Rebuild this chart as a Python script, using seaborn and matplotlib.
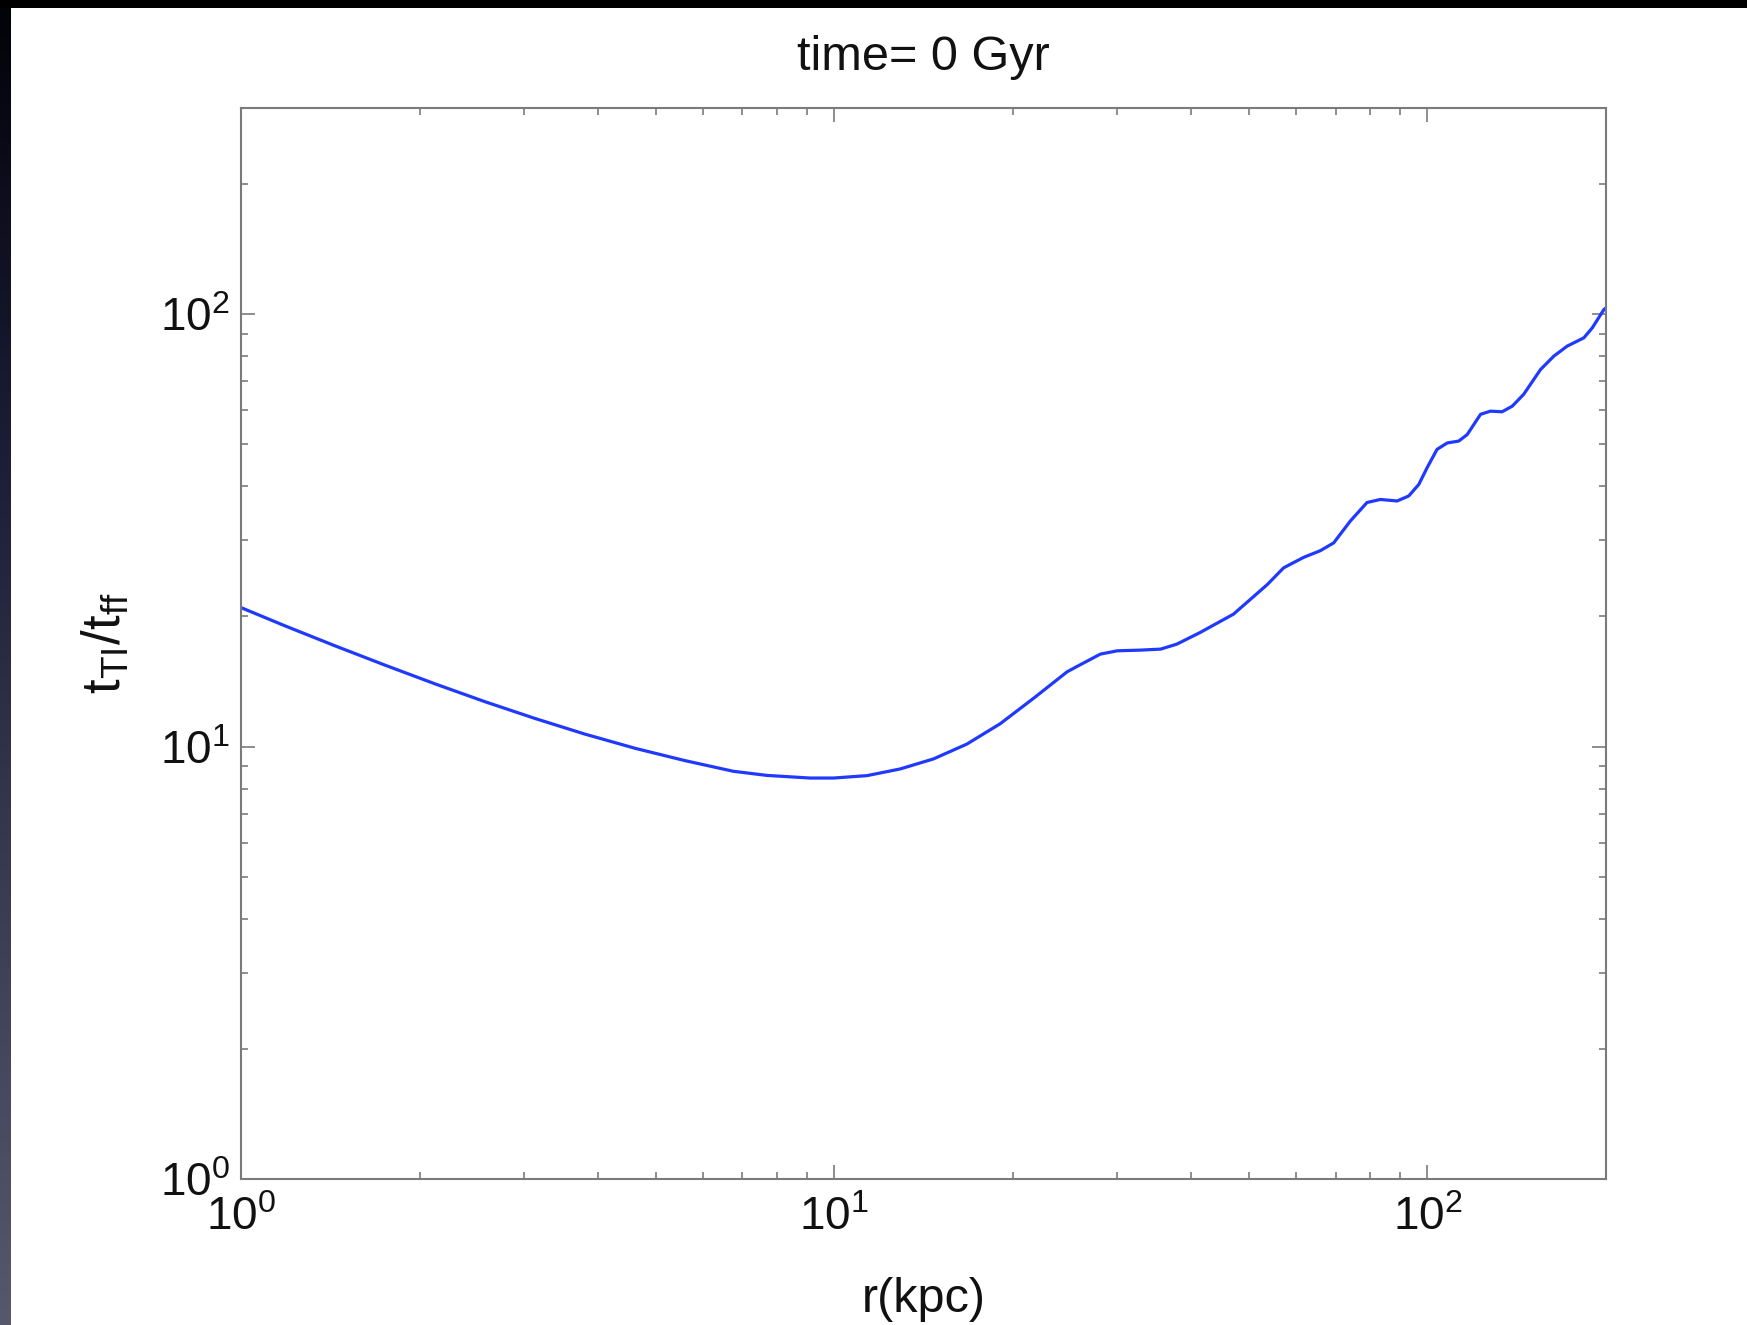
import numpy as np
import matplotlib
matplotlib.use("Agg")
import matplotlib.pyplot as plt
import seaborn as sns
import pandas as pd
from matplotlib.colors import LinearSegmentedColormap

# Radius (kpc) and ratio of thermal-instability time to free-fall time
r_kpc = [1.00, 1.186, 1.44, 1.75, 2.13, 2.58, 3.13, 3.80, 4.62, 5.59, 6.76,
         7.70, 9.11, 9.97, 11.36, 12.92, 14.71, 16.74, 19.05, 21.7, 24.7,
         25.6, 28.1, 30.0, 32.8, 35.5, 37.8, 41.4, 47.1, 53.7, 57.2, 58.7,
         61.85, 66.0, 69.5, 74.2, 79.1, 83.3, 88.9, 93.0, 96.7, 99.9, 103.8,
         108.0, 112.9, 116.7, 122.9, 127.7, 133.6, 139.0, 145.3, 155.1,
         163.3, 172.0, 183.5, 189.6, 198.3, 200.0]
t_ratio = [20.97, 19.03, 17.11, 15.43, 13.95, 12.70, 11.62, 10.69, 9.91, 9.29,
           8.77, 8.58, 8.46, 8.46, 8.57, 8.88, 9.37, 10.14, 11.3, 12.95, 14.9,
           15.3, 16.37, 16.66, 16.72, 16.81, 17.26, 18.37, 20.25, 23.7, 25.9,
           26.4, 27.4, 28.4, 29.6, 33.3, 36.7, 37.3, 37.0, 38.0, 40.4, 44.2,
           48.7, 50.4, 50.9, 52.7, 58.7, 59.7, 59.5, 61.3, 65.3, 74.5, 80.0,
           84.4, 88.2, 93.0, 102.5, 103.5]

major_ticks = [1, 10, 100]
x_tick_labels = [r"$\mathrm{10^{0}}$", r"$\mathrm{10^{1}}$", r"$\mathrm{10^{2}}$"]
y_tick_labels = [r"$\mathrm{10^{0}}$", r"$\mathrm{10^{1}}$", r"$\mathrm{10^{2}}$"]
title_text = "time= 0 Gyr"
x_label = "r(kpc)"
y_label = r"$\mathrm{t_{TI}/t_{ff}}$"

sns.set_theme(style="ticks")
plt.rcParams["font.family"] = ["Liberation Sans", "DejaVu Sans"]
plt.rcParams["mathtext.fontset"] = "custom"
plt.rcParams["mathtext.rm"] = "Liberation Sans"
plt.rcParams["mathtext.it"] = "Liberation Sans:italic"
plt.rcParams["mathtext.bf"] = "Liberation Sans:bold"

W, H = 1747, 1325
fig = plt.figure(figsize=(W / 100, H / 100), dpi=100, facecolor="white")

# dark frame strips along the left and top edges
grad = np.linspace(0, 1, 256).reshape(-1, 1)
cmap = LinearSegmentedColormap.from_list("edge", ["#020208", "#1c1c36", "#3a3a52", "#58586c"])
ax_l = fig.add_axes([0, 0, 11 / W, 1])
ax_l.imshow(grad, aspect="auto", cmap=cmap, extent=[0, 1, 0, 1], origin="upper")
ax_l.set_axis_off()
ax_t = fig.add_axes([0, 1 - 8 / H, 1, 8 / H])
ax_t.set_facecolor("black")
ax_t.set_xticks([]); ax_t.set_yticks([])
for s in ax_t.spines.values():
    s.set_visible(False)

left, right, top, bottom = 241, 1606, 108, 1179
ax = fig.add_axes([left / W, 1 - bottom / H, (right - left) / W, (bottom - top) / H])

df = pd.DataFrame({"r": r_kpc, "ratio": t_ratio})
sns.lineplot(data=df, x="r", y="ratio", ax=ax, color="#2039ff", linewidth=2.3,
             sort=False, estimator=None, solid_joinstyle="round",
             solid_capstyle="round")

ax.set_xscale("log")
ax.set_yscale("log")
ax.set_xlim(1, 200)
ax.set_ylim(1, 300)

spine_col = "#7a7a7a"
for s in ax.spines.values():
    s.set_visible(True)
    s.set_color(spine_col)
    s.set_linewidth(1.5)

ax.set_xticks(major_ticks, labels=x_tick_labels)
ax.set_yticks(major_ticks, labels=y_tick_labels)
ax.xaxis.set_minor_locator(matplotlib.ticker.LogLocator(base=10, subs=np.arange(2, 10)))
ax.yaxis.set_minor_locator(matplotlib.ticker.LogLocator(base=10, subs=np.arange(2, 10)))
ax.xaxis.set_minor_formatter(matplotlib.ticker.NullFormatter())
ax.yaxis.set_minor_formatter(matplotlib.ticker.NullFormatter())
ax.tick_params(which="both", direction="in", top=True, right=True,
               color=spine_col, width=1.2, labelcolor="#111111", labelsize=33)
ax.tick_params(which="major", length=10)
ax.tick_params(which="minor", length=5)
ax.tick_params(axis="x", which="major", pad=12)
ax.tick_params(axis="y", which="major", pad=8)

ax.set_title(title_text, fontsize=35, color="#111111", pad=27)
ax.set_xlabel(x_label, fontsize=35, color="#111111", labelpad=27)
ax.set_ylabel(y_label, fontsize=38, color="#111111", labelpad=20)
ax.grid(False)

fig.savefig("out.png", dpi=100, facecolor="white")
